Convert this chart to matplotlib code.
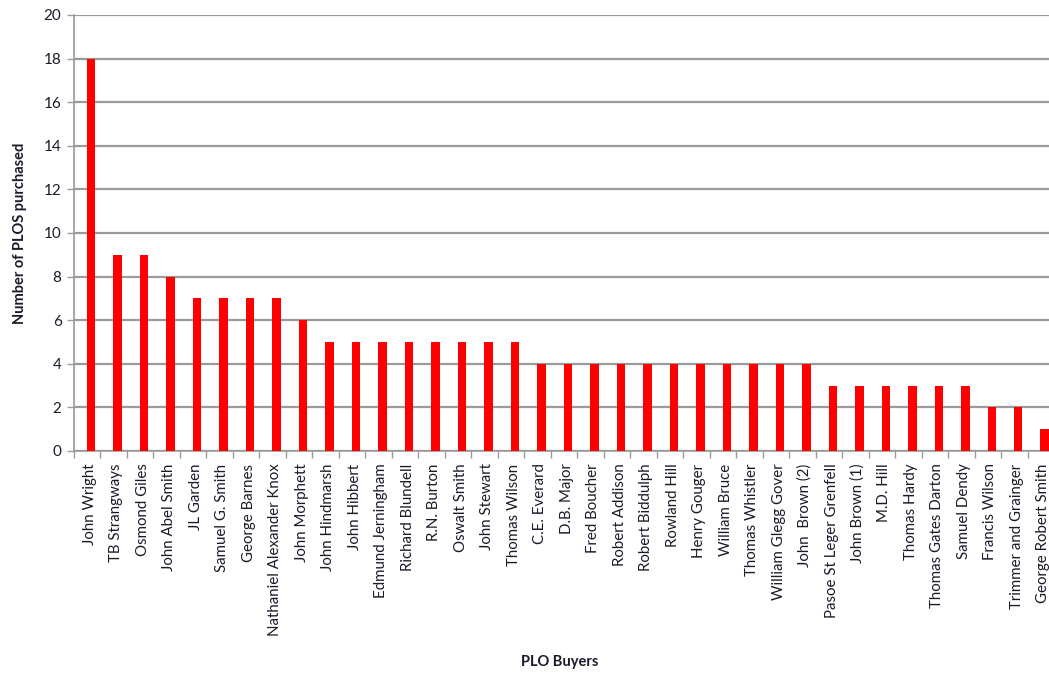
import matplotlib.pyplot as plt
import numpy as np

buyers = ["John Wright", "TB Strangways", "Osmond Giles", "John Abel Smith", "JL Garden",
          "Samuel G. Smith", "George Barnes", "Nathaniel Alexander Knox", "John Morphett",
          "John Hindmarsh", "John Hibbert", "Edmund Jerningham", "Richard Blundell",
          "R.N. Burton", "Oswalt Smith", "John Stewart", "Thomas Wilson", "C.E. Everard",
          "D.B. Major", "Fred Boucher", "Robert Addison", "Robert Biddulph", "Rowland Hill",
          "Henry Gouger", "William Bruce", "Thomas Whistler", "William Glegg Gover",
          "John  Brown (2)", "Pasoe St Leger Grenfell", "John Brown (1)", "M.D. Hill",
          "Thomas Hardy", "Thomas Gates Darton", "Samuel Dendy", "Francis Wilson",
          "Trimmer and Grainger", "George Robert Smith"]
plos = [18, 9, 9, 8, 7, 7, 7, 7, 6, 5, 5, 5, 5, 5, 5, 5, 5, 4, 4, 4, 4, 4, 4, 4, 4, 4, 4, 4,
        3, 3, 3, 3, 3, 3, 2, 2, 1]
yticks = list(range(0, 21, 2))

plt.rcParams['font.family'] = ['Lato', 'DejaVu Sans']
txt = '#1a1a2a'

fig = plt.figure(figsize=(10.49, 6.77), dpi=100)
# plot area runs a little past the right edge of the figure
ax = fig.add_axes([74/1049, 226/677, 980/1049, 436/677])

x = np.arange(len(buyers))
ax.bar(x + 0.15, plos, width=0.32, color='#ff0000', zorder=3)

ax.set_xlim(-0.5, len(buyers) - 0.5)
ax.set_ylim(0, 20)
ax.set_yticks(yticks)
ax.set_yticklabels([str(v) for v in yticks], fontsize=11, color=txt)
ax.yaxis.grid(True, color='#9a9a9a', linewidth=1.6, zorder=0)

ax.set_xticks(x + 0.1)
ax.set_xticklabels(buyers, rotation=90, fontsize=10.8, color=txt, va='top', ha='center')
ax.set_xticks(np.arange(-0.5, len(buyers)), minor=True)
ax.tick_params(axis='x', which='major', length=0, pad=9)
ax.tick_params(axis='x', which='minor', length=5, width=1, color='#9a9a9a')
ax.tick_params(axis='y', length=5, width=1, color='#9a9a9a', pad=4)

for side in ['top', 'right']:
    ax.spines[side].set_visible(False)
for side in ['left', 'bottom']:
    ax.spines[side].set_color('#9a9a9a')
    ax.spines[side].set_linewidth(1.2)

ax.set_ylabel('Number of PLOS purchased', fontsize=10.5, fontweight='bold', color=txt, labelpad=12)
fig.text(560/1049, 1 - 662/677, 'PLO Buyers', fontsize=10.5, fontweight='bold', color=txt,
         ha='center', va='center')

fig.savefig('out.png', dpi=100)
